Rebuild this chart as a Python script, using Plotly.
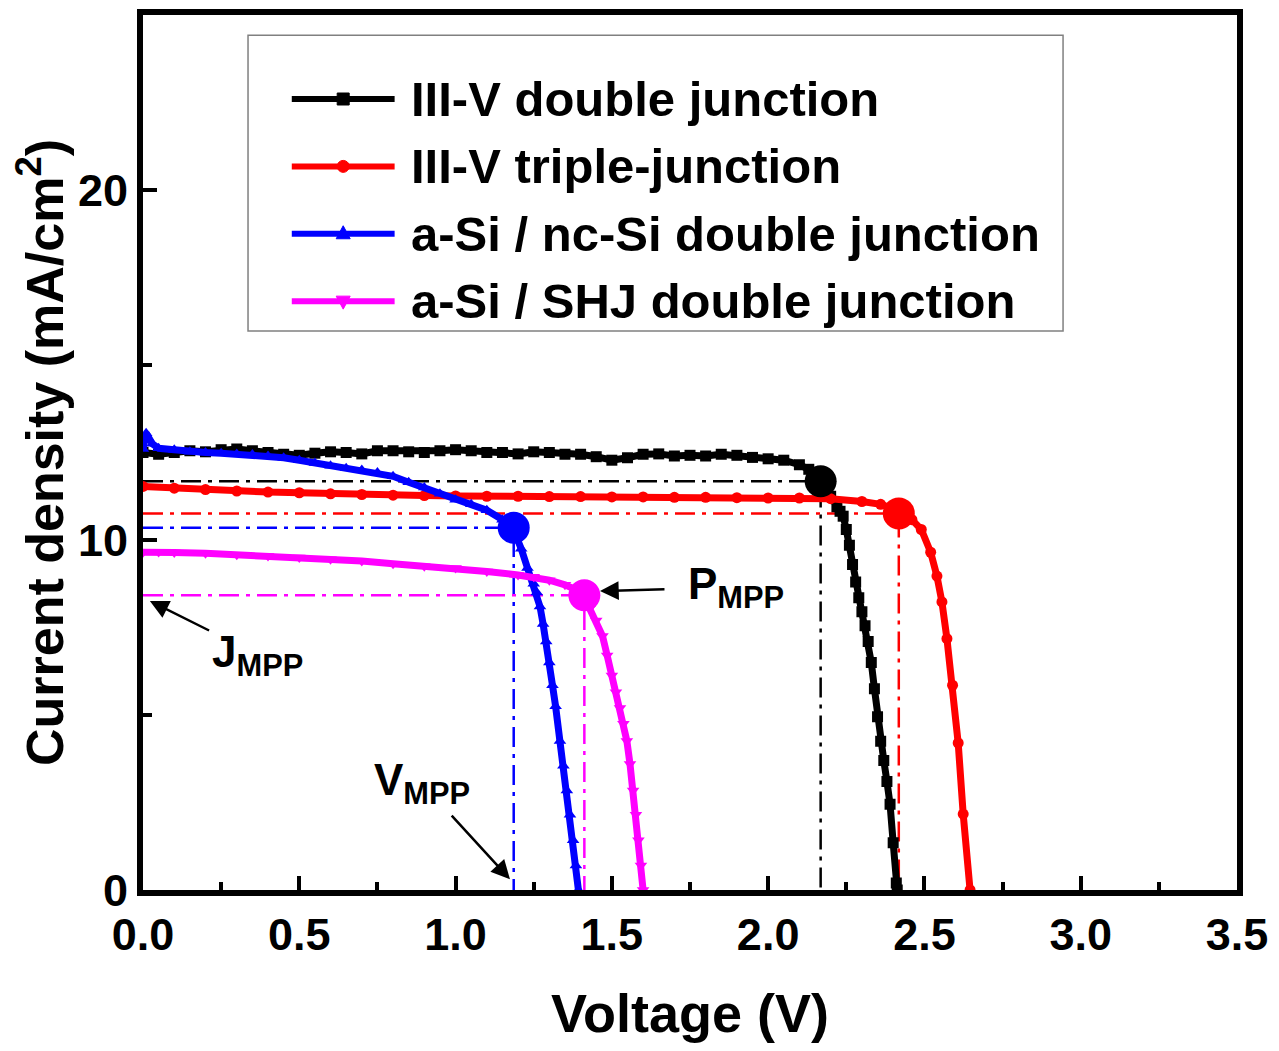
import plotly.graph_objects as go

# ---------------- data ----------------
names = ["III-V double junction", "III-V triple-junction",
         "a-Si / nc-Si double junction", "a-Si / SHJ double junction"]
colors = ["#000000", "#ff0000", "#0000ff", "#ff00ff"]
symbols = ["square", "circle", "triangle-up", "triangle-down"]

# III-V double junction
v_dj = [0.00, 0.05, 0.10, 0.15, 0.20, 0.25, 0.30, 0.35, 0.40, 0.45, 0.50, 0.55, 0.60, 0.65,
        0.70, 0.75, 0.80, 0.85, 0.90, 0.95, 1.00, 1.05, 1.10, 1.15, 1.20, 1.25, 1.30, 1.35,
        1.40, 1.45, 1.50, 1.55, 1.60, 1.65, 1.70, 1.75, 1.80, 1.85, 1.90, 1.95, 2.00, 2.05,
        2.10, 2.13, 2.16, 2.18, 2.20, 2.22, 2.23, 2.24, 2.25, 2.26, 2.27, 2.28, 2.29, 2.30,
        2.31, 2.32, 2.33, 2.34, 2.35, 2.36, 2.37, 2.38, 2.39, 2.40, 2.41, 2.413]
j_dj = [12.50, 12.45, 12.50, 12.55, 12.52, 12.58, 12.60, 12.55, 12.50, 12.45, 12.42, 12.48,
        12.52, 12.50, 12.46, 12.55, 12.55, 12.52, 12.50, 12.55, 12.58, 12.55, 12.50, 12.50,
        12.46, 12.52, 12.50, 12.45, 12.45, 12.38, 12.28, 12.35, 12.45, 12.46, 12.40, 12.42,
        12.40, 12.45, 12.42, 12.36, 12.32, 12.28, 12.15, 12.02, 11.82, 11.55, 11.25, 10.95,
        10.82, 10.68, 10.30, 9.85, 9.30, 8.80, 8.35, 7.95, 7.55, 7.10, 6.50, 5.75, 4.95,
        4.25, 3.70, 3.10, 2.45, 1.35, 0.20, 0.00]

# III-V triple junction
v_tj = [0.00, 0.10, 0.20, 0.30, 0.40, 0.50, 0.60, 0.70, 0.80, 0.90, 1.00, 1.10, 1.20, 1.30,
        1.40, 1.50, 1.60, 1.70, 1.80, 1.90, 2.00, 2.10, 2.20, 2.30, 2.36, 2.40, 2.43, 2.46,
        2.49, 2.52, 2.54, 2.556, 2.572, 2.59, 2.608, 2.624, 2.646]
j_tj = [11.53, 11.48, 11.44, 11.40, 11.37, 11.35, 11.32, 11.30, 11.28, 11.27, 11.26, 11.25,
        11.25, 11.24, 11.24, 11.23, 11.23, 11.22, 11.22, 11.21, 11.20, 11.20, 11.18, 11.10,
        11.02, 10.90, 10.75, 10.58, 10.30, 9.65, 8.97, 8.23, 7.18, 5.85, 4.20, 2.17, 0.00]

# a-Si / nc-Si double junction
v_nc = [0.00, 0.01, 0.03, 0.05, 0.10, 0.15, 0.20, 0.25, 0.30, 0.35, 0.40, 0.45, 0.50, 0.55,
        0.60, 0.65, 0.70, 0.75, 0.80, 0.85, 0.90, 0.95, 1.00, 1.05, 1.10, 1.15, 1.185, 1.21,
        1.23, 1.25, 1.26, 1.27, 1.28, 1.29, 1.30, 1.31, 1.32, 1.334, 1.345, 1.356, 1.366,
        1.376, 1.385, 1.393]
j_nc = [12.60, 13.05, 12.75, 12.62, 12.58, 12.52, 12.50, 12.48, 12.46, 12.44, 12.40, 12.35,
        12.28, 12.20, 12.12, 12.05, 12.00, 11.93, 11.82, 11.65, 11.50, 11.32, 11.15, 11.02,
        10.85, 10.58, 10.30, 9.75, 9.20, 8.75, 8.50, 8.10, 7.60, 7.10, 6.50, 5.85, 5.25,
        4.26, 3.55, 2.84, 2.15, 1.42, 0.70, 0.00]

# a-Si / SHJ double junction
v_shj = [0.00, 0.05, 0.10, 0.20, 0.30, 0.40, 0.50, 0.60, 0.70, 0.80, 0.90, 1.00, 1.10, 1.20,
         1.25, 1.30, 1.35, 1.38, 1.41, 1.43, 1.45, 1.47, 1.485, 1.50, 1.513, 1.526, 1.537,
         1.548, 1.558, 1.568, 1.577, 1.585, 1.593, 1.60]
j_shj = [9.65, 9.66, 9.64, 9.62, 9.58, 9.54, 9.50, 9.45, 9.40, 9.32, 9.25, 9.20, 9.10, 9.00,
         8.95, 8.85, 8.72, 8.60, 8.40, 8.05, 7.70, 7.26, 6.70, 6.13, 5.65, 5.20, 4.75, 4.26,
         3.60, 2.84, 2.15, 1.42, 0.70, 0.00]

# maximum power points
mpp_v = [2.168, 2.418, 1.186, 1.412]
mpp_j = [11.68, 10.76, 10.35, 8.42]

# ---------------- figure ----------------
FONT = "Liberation Sans, Arial, sans-serif"
series = [(v_dj, j_dj), (v_tj, j_tj), (v_nc, j_nc), (v_shj, j_shj)]

fig = go.Figure()

# dash-dot guide lines to the axes
for k in range(4):
    fig.add_trace(go.Scatter(
        x=[0, mpp_v[k], mpp_v[k]], y=[mpp_j[k], mpp_j[k], 0],
        mode="lines", line=dict(color=colors[k], width=2.5, dash="20px,7px,4px,7px"),
        showlegend=False, hoverinfo="skip"))

for k, (vv, jj) in enumerate(series):
    fig.add_trace(go.Scatter(
        x=vv, y=jj, mode="lines+markers", name=names[k],
        line=dict(color=colors[k], width=7),
        marker=dict(symbol=symbols[k], size=11, color=colors[k]),
        showlegend=False))

for k in range(4):
    fig.add_trace(go.Scatter(
        x=[mpp_v[k]], y=[mpp_j[k]], mode="markers",
        marker=dict(symbol="circle", size=32, color=colors[k]),
        showlegend=False, hoverinfo="skip"))

axis_common = dict(
    showgrid=False, zeroline=False, showline=True, linecolor="black", linewidth=6,
    mirror=True, ticks="inside", ticklen=14, tickwidth=4, tickcolor="black",
    tickfont=dict(family=FONT, size=45, color="black", weight="bold"),
)

fig.update_xaxes(
    range=[0, 3.5], tick0=0, dtick=0.5, tickformat=".1f",
    minor=dict(dtick=0.25, ticks="inside", ticklen=8, tickwidth=4, tickcolor="black", showgrid=False),
    title=dict(text="Voltage (V)", font=dict(family=FONT, size=54, color="black", weight="bold"),
               standoff=38),
    **axis_common)
fig.update_yaxes(
    range=[0, 25], tick0=0, dtick=10,
    minor=dict(dtick=5, ticks="inside", ticklen=9, tickwidth=4, tickcolor="black", showgrid=False),
    title=dict(text="Current density (mA/cm<sup>2</sup>)",
               font=dict(family=FONT, size=52, color="black", weight="bold"), standoff=12),
    **axis_common)

# ---------------- hand-drawn legend ----------------
shapes = [dict(type="rect", xref="paper", yref="paper", x0=0.096, x1=0.841, y0=0.639, y1=0.977,
               line=dict(color="#808080", width=1.5), fillcolor="white", layer="below")]
annotations = []
rows_y = [0.904, 0.827, 0.750, 0.673]
marker_paths = {
    "square": "M-6,-6 L6,-6 L6,6 L-6,6 Z",
    "triangle-up": "M-7,-5 L7,-5 L0,8 Z",
    "triangle-down": "M-7,5 L7,5 L0,-8 Z",
}
for k in range(4):
    yk = rows_y[k]
    shapes.append(dict(type="line", xref="paper", yref="paper", x0=0.136, x1=0.230, y0=yk, y1=yk,
                       line=dict(color=colors[k], width=6)))
    if symbols[k] == "circle":
        shapes.append(dict(type="circle", xref="paper", yref="paper", xsizemode="pixel",
                           ysizemode="pixel", xanchor=0.183, yanchor=yk,
                           x0=-6, x1=6, y0=-6, y1=6, fillcolor=colors[k],
                           line=dict(color=colors[k], width=1)))
    else:
        shapes.append(dict(type="path", xref="paper", yref="paper", xsizemode="pixel",
                           ysizemode="pixel", xanchor=0.183, yanchor=yk,
                           path=marker_paths[symbols[k]], fillcolor=colors[k],
                           line=dict(color=colors[k], width=1)))
    annotations.append(dict(xref="paper", yref="paper", x=0.243, y=yk, text=names[k],
                            showarrow=False, xanchor="left", yanchor="middle",
                            font=dict(family=FONT, size=49, color="black", weight="bold")))

# ---------------- MPP labels with arrows ----------------
lab_font = dict(family=FONT, size=44, color="black", weight="bold")
arrow_style = dict(showarrow=True, arrowhead=2, arrowsize=1.5, arrowwidth=2.5,
                   arrowcolor="black", font=lab_font)
annotations += [
    dict(x=1.462, y=8.54, text="P<sub>MPP</sub>", ax=136, ay=-4, startstandoff=22, **arrow_style),
    dict(x=0.022, y=8.26, text="J<sub>MPP</sub>", ax=108, ay=54, startstandoff=2, **arrow_style),
    dict(x=1.174, y=0.31, text="V<sub>MPP</sub>", ax=-88, ay=-96, startstandoff=4, **arrow_style),
]

fig.update_layout(
    width=1263, height=1035,
    margin=dict(l=135, r=34, t=1, b=153),
    plot_bgcolor="white", paper_bgcolor="white",
    shapes=shapes, annotations=annotations,
    showlegend=False,
    font=dict(family=FONT, color="black"),
)

fig.write_html("out.html")
